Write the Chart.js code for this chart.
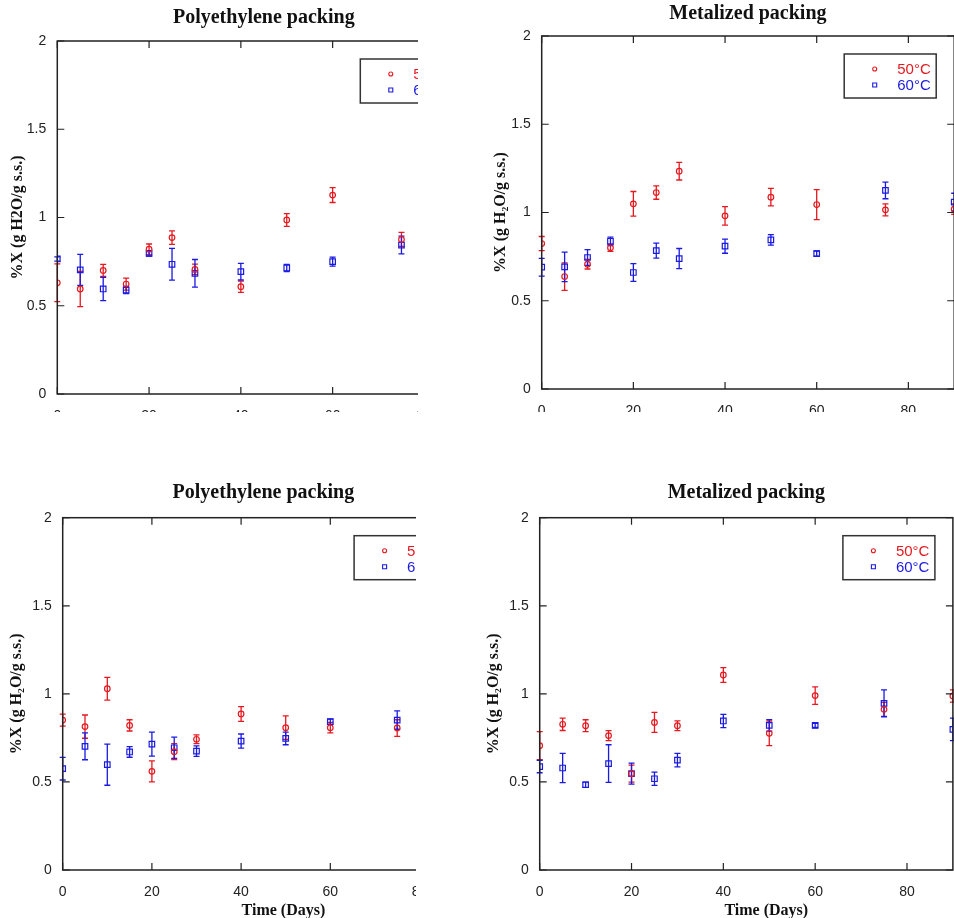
<!DOCTYPE html>
<html lang="en">
<head>
  <meta charset="UTF-8">
  <title>Moisture content during storage</title>
  <script src="https://cdn.jsdelivr.net/npm/chart.js"></script>
  <style>
    html, body { margin: 0; padding: 0; overflow: hidden; background: #fff; width: 954px; height: 918px; }
    .panel { position: absolute; overflow: hidden; }
    .panel canvas { position: absolute; left: 0; top: 0; }
  </style>
</head>
<body>
  <div class="panel" style="left:0;top:0;width:418px;height:412px"><canvas id="c1" width="490" height="440"></canvas></div>
  <div class="panel" style="left:480px;top:0;width:474px;height:412px"><canvas id="c2" width="500" height="440"></canvas></div>
  <div class="panel" style="left:0;top:470px;width:416px;height:448px"><canvas id="c3" width="490" height="460"></canvas></div>
  <div class="panel" style="left:480px;top:470px;width:474px;height:448px"><canvas id="c4" width="500" height="460"></canvas></div>
  <script>
    // storage days
    const daysPE = [0, 5, 10, 15, 20, 25, 30, 40, 50, 60, 75];
    const daysMet = [0, 5, 10, 15, 20, 25, 30, 40, 50, 60, 75, 90];

    // top row
    const peA50 = [0.63, 0.595, 0.70, 0.623, 0.82, 0.886, 0.706, 0.608, 0.986, 1.127, 0.876];
    const peA50err = [0.107, 0.10, 0.034, 0.034, 0.03, 0.038, 0.03, 0.032, 0.036, 0.042, 0.04];
    const peA60 = [0.765, 0.703, 0.595, 0.589, 0.797, 0.735, 0.684, 0.693, 0.714, 0.75, 0.844];
    const peA60err = [0.012, 0.088, 0.066, 0.02, 0.015, 0.09, 0.078, 0.047, 0.02, 0.025, 0.05];

    const metA50 = [0.824, 0.637, 0.707, 0.80, 1.049, 1.113, 1.234, 0.981, 1.087, 1.045, 1.015, 1.019];
    const metA50err = [0.04, 0.078, 0.027, 0.02, 0.07, 0.038, 0.05, 0.052, 0.05, 0.085, 0.034, 0.03];
    const metA60 = [0.69, 0.692, 0.745, 0.837, 0.66, 0.784, 0.739, 0.809, 0.845, 0.767, 1.125, 1.059];
    const metA60err = [0.05, 0.084, 0.045, 0.024, 0.05, 0.043, 0.057, 0.04, 0.03, 0.015, 0.047, 0.05];

    // bottom row
    const peB50 = [0.851, 0.814, 1.029, 0.821, 0.56, 0.672, 0.742, 0.886, 0.808, 0.808, 0.806];
    const peB50err = [0.034, 0.066, 0.065, 0.032, 0.06, 0.045, 0.025, 0.042, 0.067, 0.03, 0.047];
    const peB60 = [0.575, 0.702, 0.598, 0.67, 0.715, 0.694, 0.675, 0.732, 0.747, 0.842, 0.851];
    const peB60err = [0.064, 0.076, 0.117, 0.03, 0.068, 0.06, 0.03, 0.04, 0.036, 0.015, 0.052];

    const metB50 = [0.706, 0.827, 0.819, 0.763, 0.547, 0.838, 0.819, 1.107, 0.776, 0.99, 0.912, 0.988];
    const metB50err = [0.08, 0.035, 0.034, 0.028, 0.048, 0.057, 0.028, 0.042, 0.07, 0.05, 0.04, 0.035];
    const metB60 = [0.587, 0.579, 0.484, 0.604, 0.547, 0.518, 0.624, 0.846, 0.821, 0.821, 0.946, 0.798];
    const metB60err = [0.035, 0.083, 0.015, 0.107, 0.06, 0.038, 0.038, 0.038, 0.033, 0.012, 0.076, 0.064];

    const seriesLabels = ['50°C', '60°C'];
    const RED = 'rgb(228,26,32)';
    const BLUE = 'rgb(26,26,226)';
    const INK = '#222';

    // vertical error bars with small caps
    const errorBars = {
      id: 'errorBars',
      beforeDatasetsDraw(chart) {
        const ctx = chart.ctx;
        const xs = chart.scales.x, ys = chart.scales.y;
        chart.data.datasets.forEach(ds => {
          ctx.save();
          ctx.strokeStyle = ds.borderColor;
          ctx.lineWidth = 1.3;
          ds.data.forEach((p, i) => {
            const e = ds.errors[i];
            const x = xs.getPixelForValue(p.x);
            const y1 = ys.getPixelForValue(p.y + e);
            const y2 = ys.getPixelForValue(p.y - e);
            ctx.beginPath();
            ctx.moveTo(x, y1); ctx.lineTo(x, y2);
            ctx.moveTo(x - 3, y1); ctx.lineTo(x + 3, y1);
            ctx.moveTo(x - 3, y2); ctx.lineTo(x + 3, y2);
            ctx.stroke();
          });
          ctx.restore();
        });
      }
    };

    // box frame, inward ticks, boxed legend, x title
    const frame = {
      id: 'frame',
      afterDraw(chart, args, opts) {
        const ctx = chart.ctx;
        const a = chart.chartArea;
        const xs = chart.scales.x, ys = chart.scales.y;
        ctx.save();
        ctx.strokeStyle = INK;
        ctx.lineWidth = 1.5;
        ctx.strokeRect(a.left, a.top, a.right - a.left, a.bottom - a.top);
        ctx.lineWidth = 1.2;
        ctx.beginPath();
        xs.ticks.forEach(t => {
          const x = xs.getPixelForValue(t.value);
          ctx.moveTo(x, a.bottom); ctx.lineTo(x, a.bottom - 7);
          ctx.moveTo(x, a.top); ctx.lineTo(x, a.top + 7);
        });
        ys.ticks.forEach(t => {
          const y = ys.getPixelForValue(t.value);
          ctx.moveTo(a.left, y); ctx.lineTo(a.left + 7, y);
          ctx.moveTo(a.right, y); ctx.lineTo(a.right - 7, y);
        });
        ctx.stroke();

        // legend
        const bx = a.right - 110, by = a.top + 18;
        ctx.lineWidth = 1.5;
        ctx.strokeStyle = '#333';
        ctx.strokeRect(bx, by, 92, 44);
        ctx.font = '15px "Liberation Sans", Arial, sans-serif';
        ctx.textBaseline = 'middle';
        ctx.textAlign = 'left';
        chart.data.datasets.forEach((ds, i) => {
          const ry = by + 15 + i * 16;
          ctx.strokeStyle = ds.borderColor;
          ctx.lineWidth = 1.1;
          ctx.beginPath();
          if (ds.pointStyle === 'rect') ctx.rect(bx + 28.5, ry - 2, 4, 4);
          else ctx.arc(bx + 30.5, ry, 2, 0, Math.PI * 2);
          ctx.stroke();
          ctx.fillStyle = ds.borderColor;
          ctx.fillText(ds.label, bx + 53, ry + 1);
        });

        if (opts.xTitle) {
          ctx.fillStyle = '#111';
          ctx.font = 'bold 16px "Liberation Serif", "Times New Roman", serif';
          ctx.textAlign = 'center';
          ctx.fillText(opts.xTitle, (a.left + a.right) / 2 + 20, opts.xTitleY);
        }
        ctx.restore();
      }
    };

    function makeChart(id, g, title, yTitle, days, s50, e50, s60, e60, xTitle) {
      const tickFont = { family: '"Liberation Sans", Arial, sans-serif', size: 14 };
      new Chart(document.getElementById(id), {
        type: 'scatter',
        data: {
          datasets: [{
            label: seriesLabels[0],
            data: days.map((d, i) => ({ x: d, y: s50[i] })),
            errors: e50,
            borderColor: RED,
            backgroundColor: 'rgba(0,0,0,0)',
            pointStyle: 'circle',
            pointRadius: 2.8,
            borderWidth: 1.2
          }, {
            label: seriesLabels[1],
            data: days.map((d, i) => ({ x: d, y: s60[i] })),
            errors: e60,
            borderColor: BLUE,
            backgroundColor: 'rgba(0,0,0,0)',
            pointStyle: 'rect',
            pointRadius: 3.9,
            borderWidth: 1.2
          }]
        },
        options: {
          responsive: false,
          animation: false,
          layout: { padding: { left: 0, top: 0, bottom: 0, right: g.W - g.R } },
          plugins: {
            legend: { display: false },
            tooltip: { enabled: false },
            title: {
              display: true,
              text: title,
              fullSize: false,
              color: '#111',
              font: { family: '"Liberation Serif", "Times New Roman", serif', size: 20, weight: 'bold' },
              padding: { top: g.tt, bottom: g.T - 24 - g.tt }
            },
            frame: { xTitle: xTitle, xTitleY: g.xt }
          },
          scales: {
            x: {
              type: 'linear',
              min: 0,
              max: 90,
              grid: { display: false, drawTicks: false },
              border: { display: false },
              ticks: { stepSize: 20, includeBounds: false, padding: 14, color: INK, font: tickFont },
              afterFit: s => { s.height = g.H - g.B; }
            },
            y: {
              min: 0,
              max: 2,
              grid: { display: false, drawTicks: false },
              border: { display: false },
              ticks: { stepSize: 0.5, padding: 11, color: INK, font: tickFont, callback: v => String(v) },
              title: {
                display: true,
                text: yTitle,
                color: '#111',
                font: { family: '"Liberation Serif", "Times New Roman", serif', size: 16, weight: 'bold' },
                padding: { top: g.yt, bottom: 0 }
              },
              afterFit: s => { s.width = g.L; }
            }
          }
        },
        plugins: [errorBars, frame]
      });
    }

    document.addEventListener('DOMContentLoaded', function () {
      makeChart('c1', { W: 490, H: 440, L: 57.3, T: 41, R: 470.3, B: 394, tt: 6, yt: 8.2 },
        'Polyethylene packing', '%X (g H2O/g s.s.)', daysPE, peA50, peA50err, peA60, peA60err, null);
      makeChart('c2', { W: 500, H: 440, L: 61.7, T: 36, R: 474.2, B: 389, tt: 2, yt: 10.9 },
        'Metalized packing', '%X (g H₂O/g s.s.)', daysMet, metA50, metA50err, metA60, metA60err, null);
      makeChart('c3', { W: 490, H: 460, L: 62.7, T: 47.7, R: 464.1, B: 400, tt: 10.7, yt: 6.9, xt: 441 },
        'Polyethylene packing', '%X (g H₂O/g s.s.)', daysPE, peB50, peB50err, peB60, peB60err, 'Time (Days)');
      makeChart('c4', { W: 500, H: 460, L: 59.7, T: 47.7, R: 472.9, B: 400, tt: 10.7, yt: 4.1, xt: 441 },
        'Metalized packing', '%X (g H₂O/g s.s.)', daysMet, metB50, metB50err, metB60, metB60err, 'Time (Days)');
    });
  </script>
</body>
</html>
